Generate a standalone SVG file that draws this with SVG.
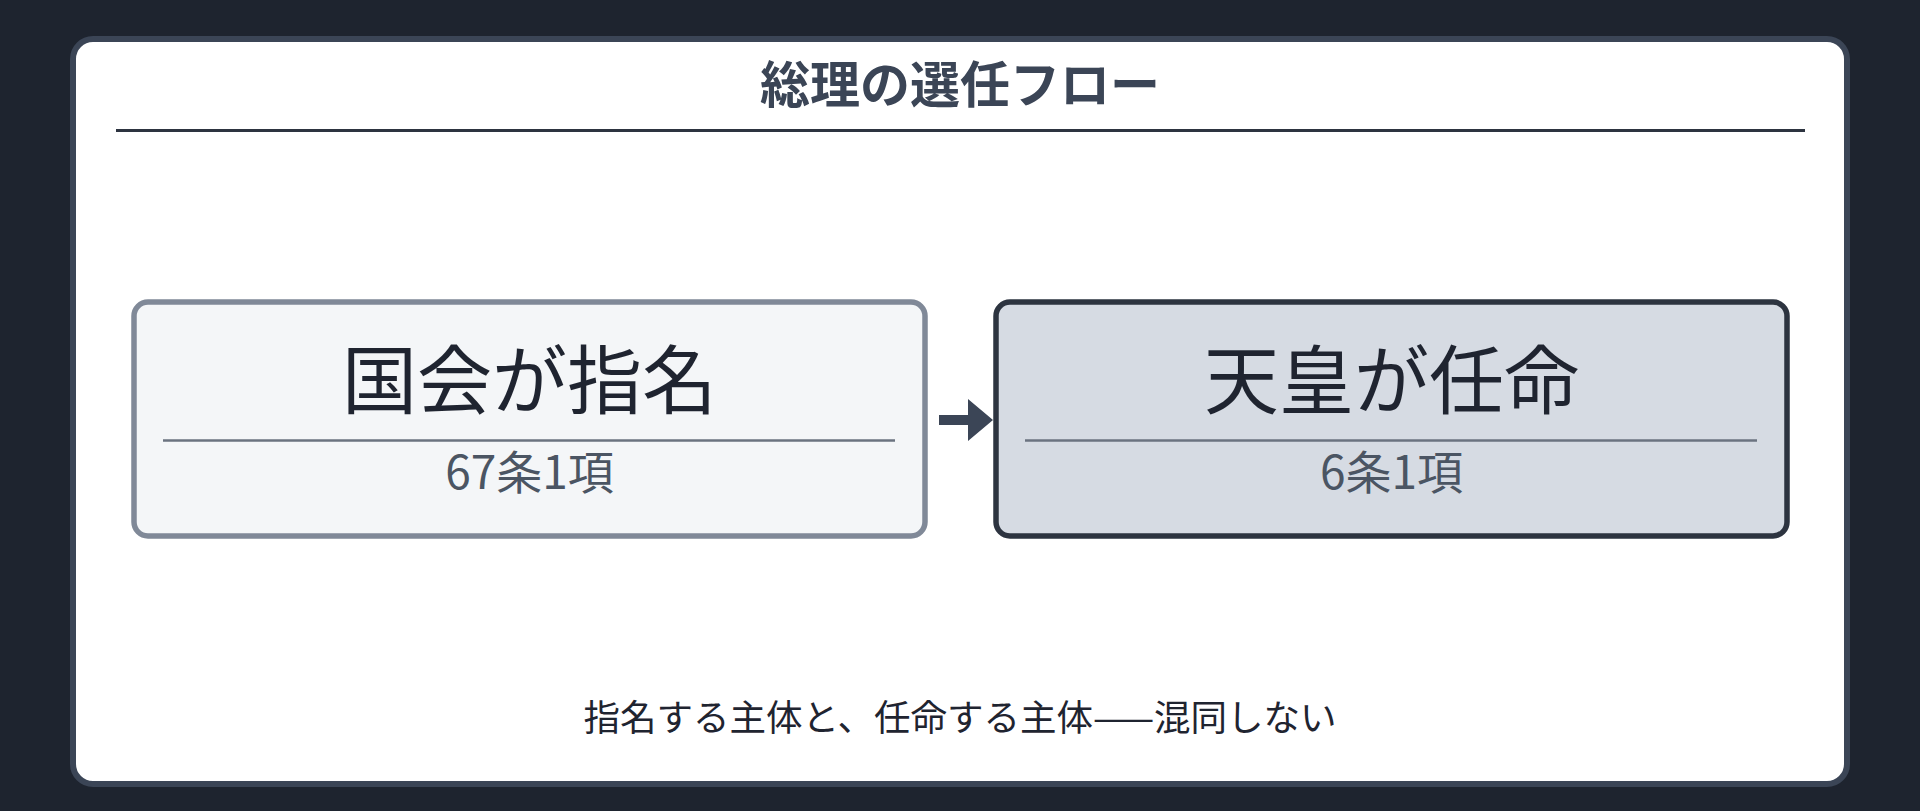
<svg xmlns="http://www.w3.org/2000/svg" width="1920" height="811" viewBox="0 0 1920 811">
<style>
text{font-family:"Noto Sans CJK JP","Noto Sans",sans-serif;text-anchor:middle;dominant-baseline:central}
.title{font-size:50px;font-weight:700;fill:#3b4556}
.main{font-size:75px;fill:#1f2430}
.sub{font-size:46px;fill:#4b5563}
.cap{font-size:36.5px;fill:#1f2430}
.div{stroke:#6b7380;stroke-width:2.5}
</style>
<rect x="0" y="0" width="1920" height="811" fill="#1e242f"/>
<g id="card">
<rect x="73" y="39" width="1774" height="745" rx="20" fill="#ffffff" stroke="#3b4556" stroke-width="6"/>
<text class="title" x="960" y="81">総理の選任フロー</text>
<line x1="116" y1="130.5" x2="1805" y2="130.5" stroke="#2d3440" stroke-width="3"/>
</g>
<g id="node-nominate">
<rect x="134" y="302" width="791" height="234" rx="14" fill="#f4f6f8" stroke="#808998" stroke-width="5.5"/>
<text class="main" x="529.5" y="375">国会が指名</text>
<line class="div" x1="163" y1="440.5" x2="895" y2="440.5"/>
<text class="sub" x="529.5" y="469">67条1項</text>
</g>
<g id="node-appoint">
<rect x="996" y="302" width="791" height="234" rx="14" fill="#d6dbe3" stroke="#2d3440" stroke-width="5.5"/>
<text class="main" x="1391.5" y="375">天皇が任命</text>
<line class="div" x1="1025" y1="440.5" x2="1757" y2="440.5"/>
<text class="sub" x="1391.5" y="469">6条1項</text>
</g>
<g id="connectors">
<path d="M939 415 H968 V399 L993 420 L968 441 V425 H939 Z" fill="#3b4556"/>
</g>
<g id="caption">
<text class="cap" x="960" y="715">指名する主体と、任命する主体——混同しない</text>
</g>
</svg>
